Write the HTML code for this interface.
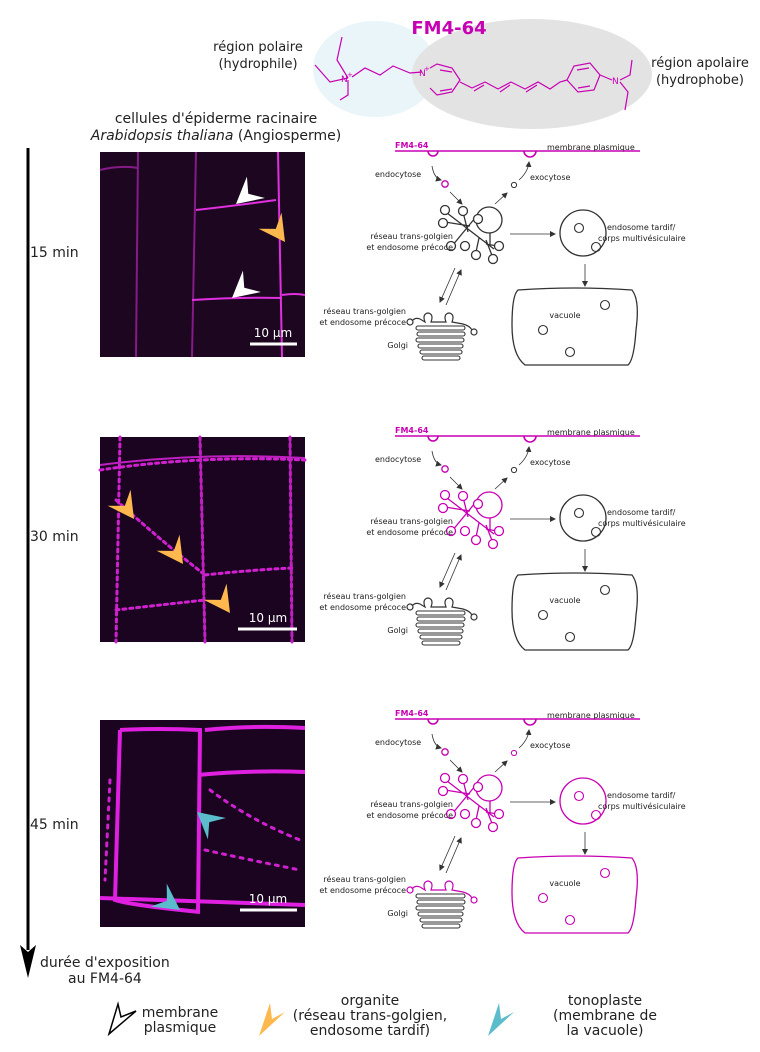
<!DOCTYPE html>
<html><head><meta charset="utf-8"><style>
html,body{margin:0;padding:0;background:#fff}
svg{display:block;font-family:"DejaVu Sans","Liberation Sans",sans-serif}
.s{font-size:8px;fill:#222}
</style></head><body>
<svg width="760" height="1052" viewBox="0 0 760 1052" xmlns="http://www.w3.org/2000/svg">
<defs>
<marker id="m" viewBox="0 0 6 6" refX="5" refY="3" markerWidth="6" markerHeight="6" orient="auto" markerUnits="userSpaceOnUse"><path d="M0,0 L6,3 L0,6Z" fill="#333"/></marker>
<path id="ah" d="M0,0 L-26,-14 L-16,0 L-26,14 Z"/>
<symbol id="tgn" overflow="visible">
  <g fill="#fff" stroke-width="1.3">
    <path d="M447,213 L494,249 M452,246 L480,212 M445,222 L470,226 M463,212 L468,232 M479,238 L476,252 M486,240 L493,258 M490,233 L490,245 M497,246 L486,244" fill="none"/>
    <circle cx="489" cy="220" r="13"/>
    <circle cx="445" cy="210" r="4.5"/><circle cx="443" cy="223" r="4.5"/><circle cx="463" cy="211" r="4.5"/>
    <circle cx="478" cy="219" r="4.5"/><circle cx="465" cy="246" r="4.5"/><circle cx="476" cy="255" r="4.5"/>
    <circle cx="493" cy="259" r="4.5"/><circle cx="499" cy="246" r="4.5"/><circle cx="451" cy="246" r="4.5"/>
  </g>
</symbol>
<symbol id="panel" overflow="visible">
  <line x1="395" y1="151" x2="640" y2="151" stroke="#c800b4" stroke-width="1.6"/>
  <path d="M428,151 a5,5 0 0 0 10,0" fill="none" stroke="#c800b4" stroke-width="1.6"/>
  <path d="M524,151 a6,6 0 0 0 12,0" fill="none" stroke="#c800b4" stroke-width="1.6"/>
  <path d="M432,166 Q434,178 441,180" fill="none" stroke="#333" stroke-width="0.8" marker-end="url(#m)"/>
  <circle cx="445" cy="184" r="3.2" fill="none" stroke="#c800b4" stroke-width="1.3"/>
  <line x1="450" y1="192" x2="462" y2="204" stroke="#333" stroke-width="0.8" marker-end="url(#m)"/>
  <circle cx="514" cy="185" r="2.6" fill="none" stroke="var(--exo)" stroke-width="1"/>
  <line x1="495" y1="204" x2="507" y2="193" stroke="#333" stroke-width="0.8" marker-end="url(#m)"/>
  <path d="M519,180 Q528,172 529,162" fill="none" stroke="#333" stroke-width="0.8" marker-end="url(#m)"/>
  <line x1="510" y1="234" x2="555" y2="234" stroke="#333" stroke-width="0.8" marker-end="url(#m)"/>
  <circle cx="583" cy="233" r="23" fill="#fff" stroke="var(--mvb)" stroke-width="1.3"/>
  <circle cx="579" cy="228" r="4.5" fill="none" stroke="var(--mvb)" stroke-width="1.1"/>
  <circle cx="596" cy="247" r="4.5" fill="none" stroke="var(--mvb)" stroke-width="1.1"/>
  <line x1="585" y1="264" x2="585" y2="286" stroke="#333" stroke-width="0.8" marker-end="url(#m)"/>
  <path d="M518,290 Q575,286 632,290 Q640,300 636,330 Q634,360 628,365 L525,365 Q512,355 512,325 Q512,295 518,290Z" fill="#fff" stroke="var(--vac)" stroke-width="1.3"/>
  <circle cx="605" cy="305" r="4.5" fill="none" stroke="var(--vac)" stroke-width="1.1"/>
  <circle cx="543" cy="330" r="4.5" fill="none" stroke="var(--vac)" stroke-width="1.1"/>
  <circle cx="570" cy="352" r="4.5" fill="none" stroke="var(--vac)" stroke-width="1.1"/>
  <line x1="455" y1="268" x2="440" y2="302" stroke="#333" stroke-width="0.8" marker-end="url(#m)"/>
  <line x1="446" y1="305" x2="461" y2="270" stroke="#333" stroke-width="0.8" marker-end="url(#m)"/>
  <g fill="none" stroke="var(--gol)" stroke-width="1.2">
    <path d="M412,321 Q415,317 420,319 L425,322 Q422,314 428,313 Q434,314 431,322 L446,322 Q443,314 449,313 Q455,314 452,322 L463,324 Q470,326 472,330" />
    <circle cx="410" cy="322" r="3"/><circle cx="474" cy="332" r="3"/>
  </g>
  <g fill="none" stroke="#333" stroke-width="1.1">
    <rect x="416" y="326" width="49" height="4" rx="2"/><rect x="417" y="332" width="48" height="4" rx="2"/>
    <rect x="416" y="338" width="48" height="4" rx="2"/><rect x="418" y="344" width="45" height="4" rx="2"/>
    <rect x="420" y="350" width="42" height="4" rx="2"/><rect x="422" y="356" width="38" height="4" rx="2"/>
  </g>
</symbol>
</defs>

<ellipse cx="375" cy="69" rx="62" ry="48" fill="#e9f5f8"/>
<ellipse cx="532" cy="74" rx="120" ry="55" fill="#e3e3e3"/>
<text x="449" y="34" font-size="18" font-weight="bold" fill="#c800b4" text-anchor="middle">FM4-64</text>
<text x="258" y="51" font-size="13" fill="#222" text-anchor="middle">région polaire</text>
<text x="258" y="68" font-size="13" fill="#222" text-anchor="middle">(hydrophile)</text>
<text x="700" y="67" font-size="13" fill="#222" text-anchor="middle">région apolaire</text>
<text x="700" y="84" font-size="13" fill="#222" text-anchor="middle">(hydrophobe)</text>
<g stroke="#c800b4" stroke-width="1.2" fill="none">
  <path d="M342,37 L337,60 L348,78 M315,65 L330,82 L348,78 M348,80 L348,95 L340,100 M352,77 L365,68 L380,75 L393,66 L410,73 L422,72"/>
  <path d="M430,68 L437,64 L452,68 L460,80 L452,92 L437,95 L430,88 M440,70 L452,72 M440,91 L452,89"/>
  <path d="M460,82 L472,88 L485,82 L498,89 L511,82 L525,89 L538,82 L550,89 L560,82 L567,80 M474,91 L484,85 M500,92 L510,85 M526,92 L537,85"/>
  <path d="M567,80 L574,66 L590,63 L600,75 L594,90 L578,92 L567,80 M577,70 L589,68 M578,88 L590,86 M600,75 L612,80 M620,80 L630,75 L632,60 M620,82 L628,92 L625,110"/>
</g>
<text x="419" y="76" font-size="9" fill="#c800b4">N</text><text x="424" y="71" font-size="7" fill="#c800b4">+</text>
<text x="341" y="82" font-size="9" fill="#c800b4">N</text><text x="347" y="77" font-size="7" fill="#c800b4">+</text>
<text x="612" y="84" font-size="9" fill="#c800b4">N</text>

<text x="216" y="123" font-size="14" fill="#222" text-anchor="middle">cellules d'épiderme racinaire</text>
<text x="216" y="140" font-size="14" fill="#222" text-anchor="middle"><tspan font-style="italic">Arabidopsis thaliana</tspan> (Angiosperme)</text>

<line x1="28" y1="148" x2="28" y2="950" stroke="#000" stroke-width="3"/>
<path d="M20,945 L28,978 L36,945 L28,952Z" fill="#000"/>
<text x="30" y="257" font-size="14" fill="#222">15 min</text>
<text x="30" y="541" font-size="14" fill="#222">30 min</text>
<text x="30" y="829" font-size="14" fill="#222">45 min</text>
<text x="40" y="967" font-size="14" fill="#222">durée d'exposition</text>
<text x="68" y="983" font-size="14" fill="#222">au FM4-64</text>

<rect x="100" y="152" width="205" height="205" fill="#1c0620"/>
<g stroke="#a020a0" fill="none" stroke-width="2" opacity="0.8">
  <path d="M138,152 L136,357 M196,152 L192,357 M100,170 Q120,165 138,168"/>
</g>
<path d="M278,152 L282,357 M196,210 Q240,205 276,200 M192,300 Q240,297 282,298 M282,295 Q295,293 305,295" stroke="#e030e0" stroke-width="2" fill="none"/>
<use href="#ah" fill="#fff" transform="translate(236,204) rotate(140)"/>
<use href="#ah" fill="#fff" transform="translate(232,298) rotate(140)"/>
<use href="#ah" fill="#ffb84d" transform="translate(285,242) rotate(55)"/>
<line x1="250" y1="344" x2="297" y2="344" stroke="#fff" stroke-width="3"/>
<text x="273" y="337" font-size="12" fill="#fff" text-anchor="middle">10 µm</text>

<rect x="100" y="437" width="205" height="205" fill="#1a0420"/>
<g stroke="#d020d0" fill="none" stroke-width="3" stroke-dasharray="3 4" stroke-linecap="round">
  <path d="M120,437 L116,642 M200,437 L205,642 M290,437 L292,642 M100,470 Q200,455 305,460 M116,500 Q160,540 205,575 M205,575 Q250,570 292,568 M116,610 Q160,605 205,600"/>
</g>
<path d="M200,437 L205,642 M290,437 L292,642 M100,465 Q200,452 305,458" stroke="#c020c0" stroke-width="2" fill="none"/>
<use href="#ah" fill="#ffb84d" transform="translate(134,519) rotate(55)"/>
<use href="#ah" fill="#ffb84d" transform="translate(183,564) rotate(55)"/>
<use href="#ah" fill="#ffb84d" transform="translate(230,613) rotate(55)"/>
<line x1="238" y1="629" x2="297" y2="629" stroke="#fff" stroke-width="3"/>
<text x="268" y="622" font-size="12" fill="#fff" text-anchor="middle">10 µm</text>

<rect x="100" y="720" width="205" height="207" fill="#1a0420"/>
<g stroke="#e020e0" fill="none" stroke-width="4">
  <path d="M120,730 L115,900 Q130,905 200,912 M120,730 Q160,728 200,730 L198,912 M198,775 Q250,770 305,772 M100,898 L305,905 M205,730 Q250,725 305,728"/>
</g>
<g stroke="#d020d0" fill="none" stroke-width="3" stroke-dasharray="3 6" stroke-linecap="round">
  <path d="M210,790 Q250,820 300,840 M205,850 Q250,860 300,870 M110,780 L105,880"/>
</g>
<use href="#ah" fill="#5bbccc" transform="translate(197,812) rotate(-140)"/>
<use href="#ah" fill="#5bbccc" transform="translate(180,910) rotate(35)"/>
<line x1="240" y1="910" x2="297" y2="910" stroke="#fff" stroke-width="3"/>
<text x="268" y="903" font-size="12" fill="#fff" text-anchor="middle">10 µm</text>

<g style="--exo:#333;--mvb:#333;--vac:#333;--gol:#333"><use href="#panel"/></g>
<use href="#tgn" stroke="#333"/>
<g transform="translate(0,285)" style="--exo:#333;--mvb:#333;--vac:#333;--gol:#333"><use href="#panel"/><use href="#tgn" stroke="#c800b4"/></g>
<g transform="translate(0,568)" style="--exo:#c800b4;--mvb:#c800b4;--vac:#c800b4;--gol:#c800b4"><use href="#panel"/><use href="#tgn" stroke="#c800b4"/></g>

<g>
<text x="395" y="148" font-size="8" font-weight="bold" fill="#c800b4">FM4-64</text>
<text x="547" y="150" class="s">membrane plasmique</text>
<text x="375" y="177" class="s">endocytose</text>
<text x="530" y="180" class="s">exocytose</text>
<text x="453" y="239" class="s" text-anchor="end">réseau trans-golgien</text>
<text x="453" y="250" class="s" text-anchor="end">et endosome précoce</text>
<text x="607" y="230" class="s">endosome tardif/</text>
<text x="598" y="241" class="s">corps multivésiculaire</text>
<text x="565" y="318" class="s" text-anchor="middle">vacuole</text>
<text x="406" y="314" class="s" text-anchor="end">réseau trans-golgien</text>
<text x="406" y="325" class="s" text-anchor="end">et endosome précoce</text>
<text x="408" y="348" class="s" text-anchor="end">Golgi</text>
</g>
<g transform="translate(0,285)">
<text x="395" y="148" font-size="8" font-weight="bold" fill="#c800b4">FM4-64</text>
<text x="547" y="150" class="s">membrane plasmique</text>
<text x="375" y="177" class="s">endocytose</text>
<text x="530" y="180" class="s">exocytose</text>
<text x="453" y="239" class="s" text-anchor="end">réseau trans-golgien</text>
<text x="453" y="250" class="s" text-anchor="end">et endosome précoce</text>
<text x="607" y="230" class="s">endosome tardif/</text>
<text x="598" y="241" class="s">corps multivésiculaire</text>
<text x="565" y="318" class="s" text-anchor="middle">vacuole</text>
<text x="406" y="314" class="s" text-anchor="end">réseau trans-golgien</text>
<text x="406" y="325" class="s" text-anchor="end">et endosome précoce</text>
<text x="408" y="348" class="s" text-anchor="end">Golgi</text>
</g>
<g transform="translate(0,568)">
<text x="395" y="148" font-size="8" font-weight="bold" fill="#c800b4">FM4-64</text>
<text x="547" y="150" class="s">membrane plasmique</text>
<text x="375" y="177" class="s">endocytose</text>
<text x="530" y="180" class="s">exocytose</text>
<text x="453" y="239" class="s" text-anchor="end">réseau trans-golgien</text>
<text x="453" y="250" class="s" text-anchor="end">et endosome précoce</text>
<text x="607" y="230" class="s">endosome tardif/</text>
<text x="598" y="241" class="s">corps multivésiculaire</text>
<text x="565" y="318" class="s" text-anchor="middle">vacuole</text>
<text x="406" y="314" class="s" text-anchor="end">réseau trans-golgien</text>
<text x="406" y="325" class="s" text-anchor="end">et endosome précoce</text>
<text x="408" y="348" class="s" text-anchor="end">Golgi</text>
</g>

<path d="M109,1034 L118,1004 L121,1017 L136,1011 Z" fill="#fff" stroke="#000" stroke-width="1.5"/>
<text x="180" y="1017" font-size="14" fill="#222" text-anchor="middle">membrane</text>
<text x="180" y="1032" font-size="14" fill="#222" text-anchor="middle">plasmique</text>
<path d="M259,1036 L270,1003 L272,1019 L285,1012 Z" fill="#ffb84d"/>
<text x="370" y="1005" font-size="14" fill="#222" text-anchor="middle">organite</text>
<text x="370" y="1020" font-size="14" fill="#222" text-anchor="middle">(réseau trans-golgien,</text>
<text x="370" y="1035" font-size="14" fill="#222" text-anchor="middle">endosome tardif)</text>
<path d="M488,1036 L499,1003 L501,1019 L514,1012 Z" fill="#5bbccc"/>
<text x="605" y="1005" font-size="14" fill="#222" text-anchor="middle">tonoplaste</text>
<text x="605" y="1020" font-size="14" fill="#222" text-anchor="middle">(membrane de</text>
<text x="605" y="1035" font-size="14" fill="#222" text-anchor="middle">la vacuole)</text>
</svg>
</body></html>
